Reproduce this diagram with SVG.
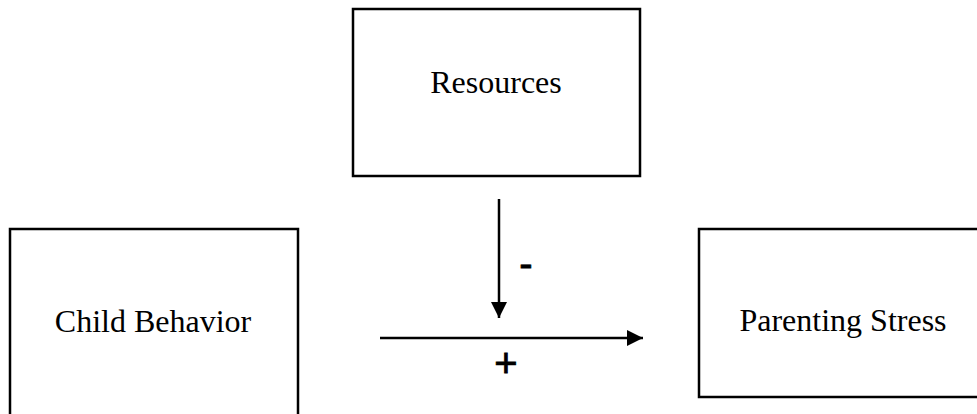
<svg xmlns="http://www.w3.org/2000/svg" width="977" height="414" viewBox="0 0 977 414">
  <style>
    .box { fill: #ffffff; stroke: #000000; stroke-width: 2.5; }
    .label { font-family: "Liberation Serif", "Times New Roman", serif; font-size: 32px; fill: #000000; text-anchor: middle; }
    .sign { font-family: "Liberation Sans", Arial, sans-serif; font-size: 40px; fill: #000000; stroke: #000000; stroke-width: 0.8; text-anchor: middle; }
    .link { stroke: #000000; stroke-width: 2.5; fill: none; }
  </style>
  <defs>
    <marker id="arrowhead" viewBox="0 0 16 16" refX="16" refY="8" markerWidth="16" markerHeight="16" markerUnits="userSpaceOnUse" orient="auto">
      <path d="M0,0 L16,8 L0,16 Z" fill="#000000"/>
    </marker>
  </defs>
  <rect width="977" height="414" fill="#ffffff"/>

  <g id="resources">
    <rect class="box" x="353" y="9" width="287" height="167"/>
    <text class="label" x="496" y="93">Resources</text>
  </g>

  <g id="child-behavior">
    <rect class="box" x="10" y="229" width="288" height="200"/>
    <text class="label" x="153" y="332">Child Behavior</text>
  </g>

  <g id="parenting-stress">
    <rect class="box" x="699" y="229" width="300" height="168"/>
    <text class="label" x="843" y="331">Parenting Stress</text>
  </g>

  <g id="connectors">
    <line class="link" x1="499" y1="199" x2="499" y2="318" marker-end="url(#arrowhead)"/>
    <line class="link" x1="380" y1="338" x2="643" y2="338" marker-end="url(#arrowhead)"/>
    <text class="sign" x="526" y="277">-</text>
    <text class="sign" x="506" y="377">+</text>
  </g>
</svg>
